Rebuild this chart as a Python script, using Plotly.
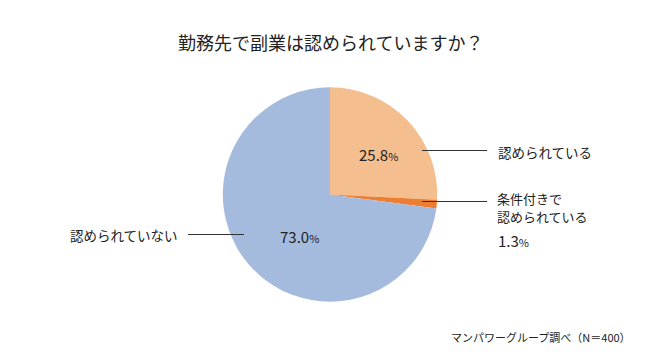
import plotly.graph_objects as go

title = "勤務先で副業は認められていますか？"
categories = ["認められている", "条件付きで<br>認められている", "認められていない"]
values = [25.8, 1.3, 73.0]
colors = ["#F4BE8E", "#ED7D31", "#A4BBDD"]
source = "マンパワーグループ調べ（N＝400）"

FONT = "Noto Sans CJK JP, sans-serif"
W, H = 660, 362

def px(x):
    return x / W

def py(y):
    return 1 - y / H

def pct(v):
    return f"{v:.1f}<span style='font-size:11px'>%</span>"

fig = go.Figure(go.Pie(
    labels=categories,
    values=values,
    marker=dict(colors=colors, line=dict(width=0)),
    sort=False,
    direction="clockwise",
    rotation=0,
    textinfo="none",
    hoverinfo="label+value",
    showlegend=False,
    domain=dict(x=[222.7 / W, 437.3 / W], y=[1 - 301.7 / H, 1 - 87.3 / H]),
))

ann = []
txt = dict(color="#222222", family=FONT)
# title
ann.append(dict(x=px(330), y=py(42), text=title, showarrow=False, xanchor="center",
                yanchor="middle", font=dict(size=18, **txt)))
# percent labels
ann.append(dict(x=px(378), y=py(154), text=pct(values[0]), showarrow=False,
                xanchor="center", yanchor="middle", font=dict(size=15, **txt)))
ann.append(dict(x=px(496), y=py(240), text=pct(values[1]), showarrow=False,
                xanchor="left", yanchor="middle", font=dict(size=15, **txt)))
ann.append(dict(x=px(299), y=py(236), text=pct(values[2]), showarrow=False,
                xanchor="center", yanchor="middle", font=dict(size=15, **txt)))
# category labels
ann.append(dict(x=px(496), y=py(152), text=categories[0], showarrow=False,
                xanchor="left", yanchor="middle", font=dict(size=13.5, **txt)))
for i, part in enumerate(categories[1].split("<br>")):
    ann.append(dict(x=px(496), y=py(198 + 18.5 * i), text=part, showarrow=False,
                    xanchor="left", yanchor="middle", borderpad=0,
                    font=dict(size=13, **txt)))
ann.append(dict(x=px(180), y=py(235), text=categories[2], showarrow=False,
                xanchor="right", yanchor="middle", font=dict(size=13.5, **txt)))
# source
ann.append(dict(x=px(633), y=py(337), text=source, showarrow=False,
                xanchor="right", yanchor="middle", font=dict(size=11, **txt)))

line = dict(color="#333333", width=1)
shapes = [
    dict(type="line", xref="paper", yref="paper", x0=px(422), x1=px(487),
         y0=py(150.5), y1=py(150.5), line=line),
    dict(type="line", xref="paper", yref="paper", x0=px(422), x1=px(487),
         y0=py(201.5), y1=py(201.5), line=line),
    dict(type="line", xref="paper", yref="paper", x0=px(188), x1=px(244),
         y0=py(234.5), y1=py(234.5), line=line),
]

fig.update_layout(
    width=W, height=H,
    margin=dict(l=0, r=0, t=0, b=0),
    paper_bgcolor="white", plot_bgcolor="white",
    annotations=ann, shapes=shapes,
    font=dict(family=FONT),
)

fig.write_html("out.html", config={"displayModeBar": False},
               post_script="document.body.style.margin='0';document.body.style.padding='0';")
